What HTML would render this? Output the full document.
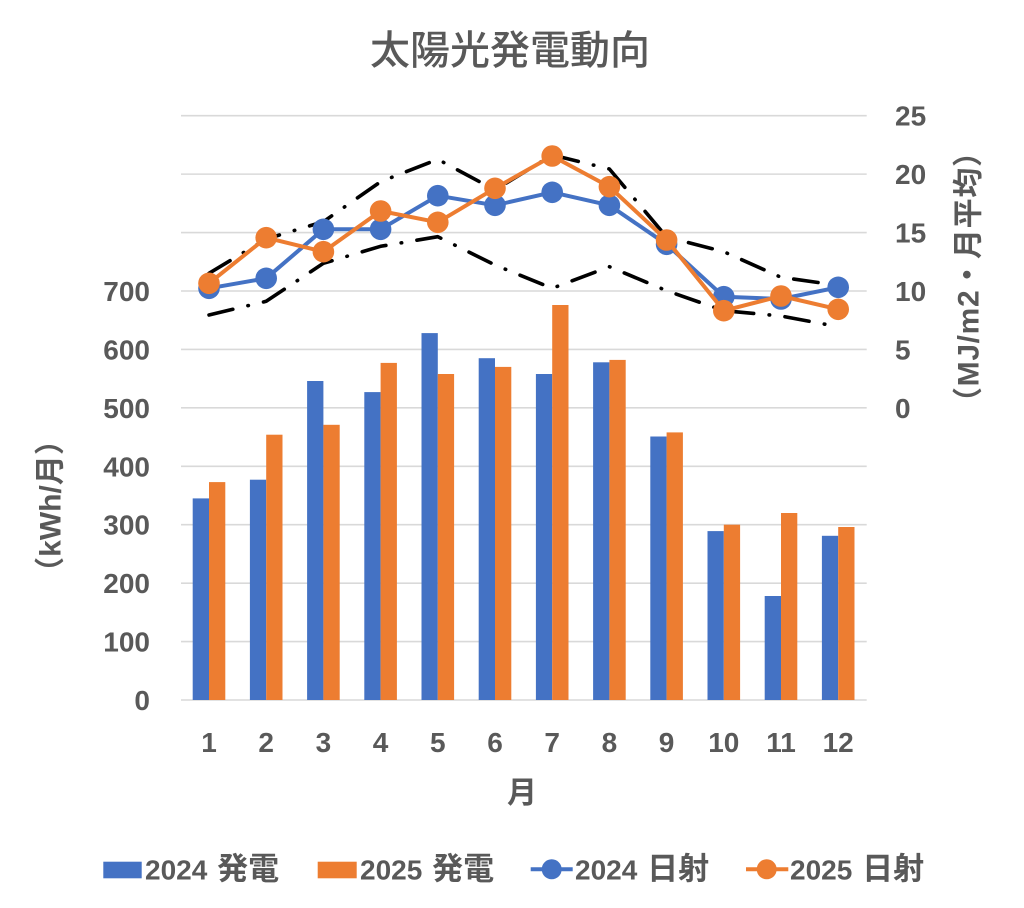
<!DOCTYPE html>
<html>
<head>
<meta charset="utf-8">
<style>
  html, body { margin: 0; padding: 0; background: #ffffff; }
  svg { display: block; }
  .t { font-family: "Liberation Sans", "Noto Sans CJK JP", sans-serif; font-weight: bold; fill: #595959; }
  .j { font-family: "Noto Sans CJK JP", "Liberation Sans", sans-serif; }
</style>
</head>
<body>
<svg width="1024" height="908" viewBox="0 0 1024 908" xmlns="http://www.w3.org/2000/svg">
  <rect width="1024" height="908" fill="#ffffff"/>

  <!-- gridlines -->
  <g stroke="#d9d9d9" stroke-width="1.6">
    <line x1="181" y1="115.7" x2="866.7" y2="115.7"/>
    <line x1="181" y1="174.13" x2="866.7" y2="174.13"/>
    <line x1="181" y1="232.56" x2="866.7" y2="232.56"/>
    <line x1="181" y1="290.99" x2="866.7" y2="290.99"/>
    <line x1="181" y1="349.42" x2="866.7" y2="349.42"/>
    <line x1="181" y1="407.85" x2="866.7" y2="407.85"/>
    <line x1="181" y1="466.28" x2="866.7" y2="466.28"/>
    <line x1="181" y1="524.71" x2="866.7" y2="524.71"/>
    <line x1="181" y1="583.14" x2="866.7" y2="583.14"/>
    <line x1="181" y1="641.57" x2="866.7" y2="641.57"/>
    <line x1="181" y1="700" x2="866.7" y2="700"/>
  </g>

  <!-- 2024 bars -->
  <g fill="#4472c4">
    <rect x="192.7" y="498.4" width="16.3" height="201.6"/>
    <rect x="249.9" y="479.7" width="16.3" height="220.3"/>
    <rect x="307.1" y="381.0" width="16.3" height="319.0"/>
    <rect x="364.3" y="392.1" width="16.3" height="307.9"/>
    <rect x="421.5" y="333.1" width="16.3" height="366.9"/>
    <rect x="478.7" y="358.2" width="16.3" height="341.8"/>
    <rect x="535.9" y="374.0" width="16.3" height="326.0"/>
    <rect x="593.1" y="362.3" width="16.3" height="337.7"/>
    <rect x="650.3" y="436.5" width="16.3" height="263.5"/>
    <rect x="707.5" y="531.1" width="16.3" height="168.9"/>
    <rect x="764.7" y="596.0" width="16.3" height="104.0"/>
    <rect x="821.9" y="535.8" width="16.3" height="164.2"/>
  </g>
  <!-- 2025 bars -->
  <g fill="#ed7d31">
    <rect x="209.0" y="482.1" width="16.3" height="217.9"/>
    <rect x="266.2" y="434.7" width="16.3" height="265.3"/>
    <rect x="323.4" y="424.8" width="16.3" height="275.2"/>
    <rect x="380.6" y="362.9" width="16.3" height="337.1"/>
    <rect x="437.8" y="374.0" width="16.3" height="326.0"/>
    <rect x="495.0" y="366.9" width="16.3" height="333.1"/>
    <rect x="552.2" y="305.0" width="16.3" height="395.0"/>
    <rect x="609.4" y="359.9" width="16.3" height="340.1"/>
    <rect x="666.6" y="432.4" width="16.3" height="267.6"/>
    <rect x="723.8" y="524.7" width="16.3" height="175.3"/>
    <rect x="781.0" y="513.0" width="16.3" height="187.0"/>
    <rect x="838.2" y="527.0" width="16.3" height="173.0"/>
  </g>

  <!-- dash-dot range lines -->
  <g fill="none" stroke="#000000" stroke-width="3.6" stroke-linecap="round" stroke-linejoin="round" stroke-dasharray="24.5 15.5 0.5 15.5">
    <polyline points="209,273.3 266.2,239 323.4,221.7 380.6,181.7 437.8,159.3 495,190 552.2,155 609.4,169 666.6,237 723.8,251.7 781,277.3 838.2,285.3"/>
    <polyline points="209,315 266.2,301.3 323.4,263.3 380.6,246.3 437.8,236.7 495,265 552.2,288.3 609.4,266.7 666.6,290.7 723.8,310.7 781,316 838.2,326.7"/>
  </g>

  <!-- 2024 irradiance -->
  <polyline fill="none" stroke="#4472c4" stroke-width="4" stroke-linejoin="round"
    points="209,288.3 266.2,278.3 323.4,229.3 380.6,229.3 437.8,195.7 495,205.3 552.2,192.3 609.4,205.3 666.6,244.3 723.8,296.7 781,299 838.2,287.3"/>
  <g fill="#4472c4">
    <circle cx="209" cy="288.3" r="10.8"/>
    <circle cx="266.2" cy="278.3" r="10.8"/>
    <circle cx="323.4" cy="229.3" r="10.8"/>
    <circle cx="380.6" cy="229.3" r="10.8"/>
    <circle cx="437.8" cy="195.7" r="10.8"/>
    <circle cx="495" cy="205.3" r="10.8"/>
    <circle cx="552.2" cy="192.3" r="10.8"/>
    <circle cx="609.4" cy="205.3" r="10.8"/>
    <circle cx="666.6" cy="244.3" r="10.8"/>
    <circle cx="723.8" cy="296.7" r="10.8"/>
    <circle cx="781" cy="299" r="10.8"/>
    <circle cx="838.2" cy="287.3" r="10.8"/>
  </g>

  <!-- 2025 irradiance -->
  <polyline fill="none" stroke="#ed7d31" stroke-width="4" stroke-linejoin="round"
    points="209,283.3 266.2,237.7 323.4,251.7 380.6,211 437.8,222.3 495,188.3 552.2,156 609.4,186.7 666.6,240 723.8,310.7 781,296 838.2,309.3"/>
  <g fill="#ed7d31">
    <circle cx="209" cy="283.3" r="10.8"/>
    <circle cx="266.2" cy="237.7" r="10.8"/>
    <circle cx="323.4" cy="251.7" r="10.8"/>
    <circle cx="380.6" cy="211" r="10.8"/>
    <circle cx="437.8" cy="222.3" r="10.8"/>
    <circle cx="495" cy="188.3" r="10.8"/>
    <circle cx="552.2" cy="156" r="10.8"/>
    <circle cx="609.4" cy="186.7" r="10.8"/>
    <circle cx="666.6" cy="240" r="10.8"/>
    <circle cx="723.8" cy="310.7" r="10.8"/>
    <circle cx="781" cy="296" r="10.8"/>
    <circle cx="838.2" cy="309.3" r="10.8"/>
  </g>

  <!-- title -->
  <text x="510" y="64" text-anchor="middle" class="j" font-size="40" font-weight="500" fill="#595959">太陽光発電動向</text>

  <!-- left axis labels -->
  <g class="t" font-size="28" text-anchor="end">
    <text x="150" y="710">0</text>
    <text x="150" y="651.6">100</text>
    <text x="150" y="593.1">200</text>
    <text x="150" y="534.7">300</text>
    <text x="150" y="476.3">400</text>
    <text x="150" y="417.9">500</text>
    <text x="150" y="359.4">600</text>
    <text x="150" y="301">700</text>
  </g>

  <!-- right axis labels -->
  <g class="t" font-size="28" text-anchor="start">
    <text x="895" y="417.9">0</text>
    <text x="895" y="359.4">5</text>
    <text x="895" y="301">10</text>
    <text x="895" y="242.6">15</text>
    <text x="895" y="184.1">20</text>
    <text x="895" y="125.7">25</text>
  </g>

  <!-- x axis labels -->
  <g class="t" font-size="28" text-anchor="middle">
    <text x="209" y="752">1</text>
    <text x="266.2" y="752">2</text>
    <text x="323.4" y="752">3</text>
    <text x="380.6" y="752">4</text>
    <text x="437.8" y="752">5</text>
    <text x="495" y="752">6</text>
    <text x="552.2" y="752">7</text>
    <text x="609.4" y="752">8</text>
    <text x="666.6" y="752">9</text>
    <text x="723.8" y="752">10</text>
    <text x="781" y="752">11</text>
    <text x="838.2" y="752">12</text>
  </g>

  <!-- axis titles -->
  <text class="t" font-size="30" x="522" y="803" text-anchor="middle">月</text>
  <text class="t" font-size="30" text-anchor="middle" dominant-baseline="central" transform="translate(51,506) rotate(-90)">（kWh/月）</text>
  <text class="t" font-size="30" text-anchor="middle" dominant-baseline="central" textLength="280" lengthAdjust="spacing" transform="translate(969,277) rotate(-90)">（MJ/m2・月平均）</text>

  <!-- legend -->
  <rect x="103.3" y="861.7" width="38.4" height="16.6" fill="#4472c4"/>
  <text class="t" font-size="28" x="145" y="879.5">2024 <tspan font-size="31" dx="2">発電</tspan></text>

  <rect x="317.7" y="861.7" width="39" height="16.6" fill="#ed7d31"/>
  <text class="t" font-size="28" x="360" y="879.5">2025 <tspan font-size="31" dx="2">発電</tspan></text>

  <line x1="530.7" y1="869.3" x2="572.7" y2="869.3" stroke="#4472c4" stroke-width="4"/>
  <circle cx="551.7" cy="869.3" r="10" fill="#4472c4"/>
  <text class="t" font-size="28" x="575" y="879.5">2024 <tspan font-size="31" dx="2">日射</tspan></text>

  <line x1="746" y1="869.3" x2="788.3" y2="869.3" stroke="#ed7d31" stroke-width="4"/>
  <circle cx="766.7" cy="869.3" r="10" fill="#ed7d31"/>
  <text class="t" font-size="28" x="790" y="879.5">2025 <tspan font-size="31" dx="2">日射</tspan></text>
</svg>
</body>
</html>
